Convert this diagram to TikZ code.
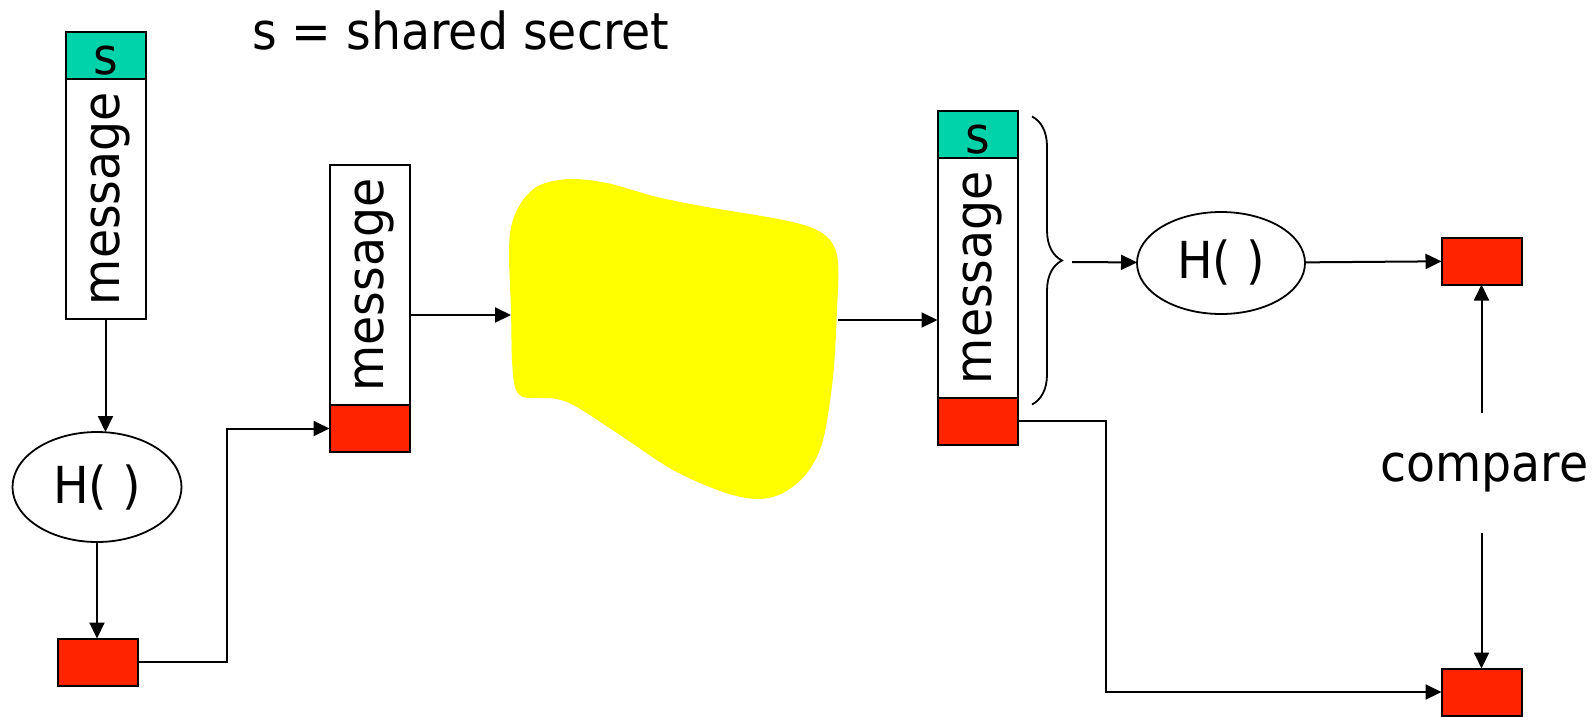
\documentclass[tikz,border=0pt]{standalone}
\usepackage{fontspec}
\setmainfont[FakeStretch=0.93]{DejaVu Sans}
\usepackage{graphicx}
\usetikzlibrary{positioning,arrows.meta,shapes.geometric,decorations.pathreplacing}

\definecolor{secretgreen}{RGB}{0,210,170}
\definecolor{digestred}{RGB}{255,36,0}
\definecolor{cloudyellow}{RGB}{255,255,0}
\newcommand{\diagfont}{\fontsize{51}{60}\selectfont}
\newcommand{\msgtext}{\rotatebox{90}{\vphantom{h}message}}

\begin{document}
\begin{tikzpicture}[
    x=1pt, y=-1pt,
    every node/.style={font=\diagfont, inner sep=0pt, outer sep=0pt},
    secretbox/.style={rectangle, draw, line width=2pt, fill=secretgreen, minimum width=80pt, minimum height=47pt, text height=38pt, text depth=0pt},
    msgbox/.style={rectangle, draw, line width=2pt, fill=white, minimum width=80pt, minimum height=240pt},
    digestbox/.style={rectangle, draw, line width=2pt, fill=digestred, minimum width=80pt, minimum height=47pt},
    hashnode/.style={ellipse, draw, line width=1.8pt, minimum width=169pt, minimum height=110pt},
    arr/.style={line width=2pt, -{Triangle[length=16pt,width=15pt]}}
]
\useasboundingbox (0,0) rectangle (1594,716);

% Title
\node[anchor=base west] (title) at (252,49) {s = shared secret};

% Sender side
\node[secretbox] (secA) at (105.5,55) {s};
\node[msgbox, below=0pt of secA] (msgA) {\msgtext};
\node[hashnode] (hashA) at (97,487) {H( )};
\node[digestbox] (redA) at (97.5,662) {};

% Message sent with digest
\node[msgbox] (msgB) at (369.5,285) {\msgtext};
\node[digestbox, below=0pt of msgB] (redB) {};

% Network cloud
\fill[cloudyellow] plot[smooth cycle, tension=0.55] coordinates {
    (570,179) (607,183) (657,197) (707,207) (773,218) (810,227)
    (830,240) (838,262) (837,310) (833,377) (823,440) (807,473)
    (783,493) (757,499) (723,492) (673,470) (623,437) (577,407)
    (557,399) (540,398) (523,397) (515,387) (512,360) (511,310)
    (509,253) (512,223) (523,200) (540,185)};
\coordinate (cloudin) at (511,315);
\coordinate (cloudout) at (838,320);

% Receiver side
\node[secretbox] (secC) at (977.5,134) {s};
\node[msgbox, below=0pt of secC] (msgC) {\msgtext};
\node[digestbox, below=0pt of msgC] (redC) {};
\node[hashnode, minimum width=168pt, minimum height=102pt] (hashC) at (1221,263) {H( )};
\node[digestbox] (redD) at (1481.5,261) {};
\node[digestbox] (redE) at (1481.5,692) {};
\node[inner ysep=40pt] (cmp) at (1484.5,473) {compare};

% Brace over s + message
\draw[line width=1.8pt, decorate, decoration={brace, amplitude=30pt}]
    ([xshift=14.5pt,yshift=-6pt]secC.north east) -- ([xshift=14.5pt,yshift=-7pt]msgC.south east);
\coordinate (bracetip) at (1072,262);

% Arrows
\draw[arr] (msgA.south) -- (msgA.south |- hashA.north);
\draw[arr] (hashA.south) -- (hashA.south |- redA.north);
\draw[arr] (redA.east) -- ++(89,0) |- (redB.west);
\draw[arr] (msgB.east |- cloudin) -- (cloudin);
\draw[arr] (cloudout) -- (cloudout -| msgC.west);
\draw[arr] (bracetip) -- (hashC);
\draw[arr] (hashC) -- (redD);
\draw[arr] (cmp.north -| redD) -- (redD.south);
\draw[arr] (cmp.south -| redE) -- (redE.north);
\draw[arr] (redC.east) -- ++(88,0) |- (redE.west);

\end{tikzpicture}
\end{document}
